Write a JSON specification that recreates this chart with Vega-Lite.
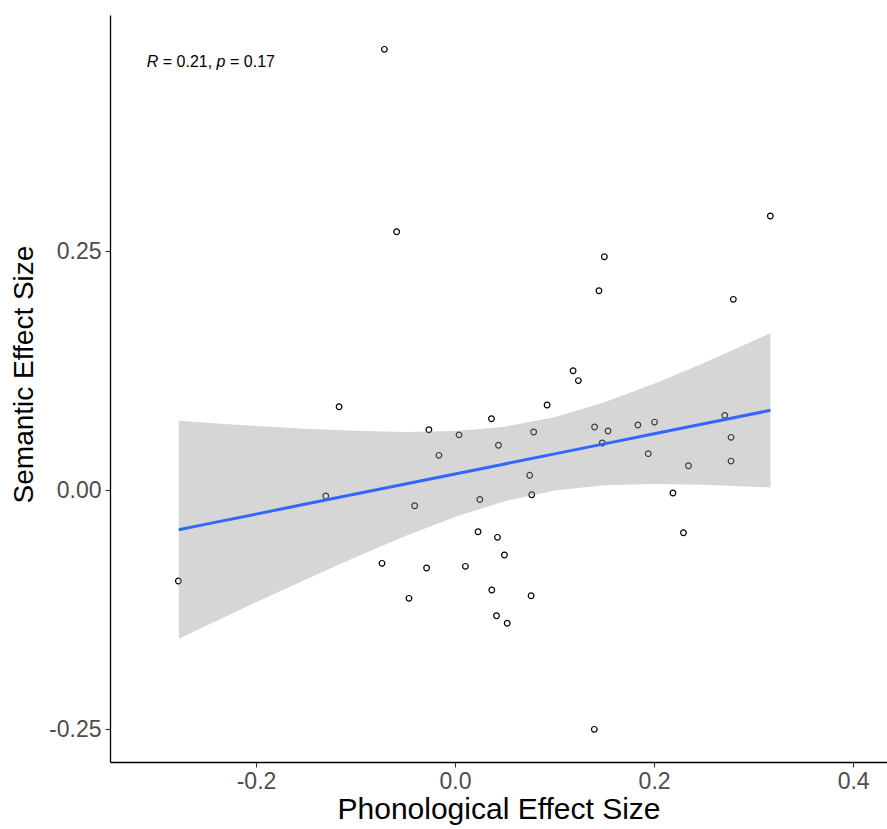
{
  "$schema": "https://vega.github.io/schema/vega-lite/v6.json",
  "width": 777,
  "height": 747,
  "autosize": {"type": "none"},
  "padding": {"left": 110, "top": 15, "right": 0, "bottom": 67},
  "background": "white",
  "config": {
    "view": {"stroke": null},
    "font": "Liberation Sans",
    "axis": {
      "domainColor": "black",
      "domainWidth": 1.3,
      "tickColor": "#333333",
      "tickWidth": 1.1,
      "tickSize": 5,
      "grid": false,
      "labelColor": "#4d4d4d",
      "labelFont": "Liberation Sans",
      "labelFontSize": 23,
      "titleFont": "Liberation Sans",
      "titleFontWeight": "normal",
      "titleColor": "black"
    }
  },
  "datasets": {
    "pts": [
      {"phon": -0.0710, "sem": 0.4610},
      {"phon": -0.0587, "sem": 0.2702},
      {"phon": 0.3168, "sem": 0.2866},
      {"phon": 0.1500, "sem": 0.2440},
      {"phon": 0.1446, "sem": 0.2085},
      {"phon": 0.2796, "sem": 0.1995},
      {"phon": 0.1186, "sem": 0.1248},
      {"phon": 0.1239, "sem": 0.1145},
      {"phon": 0.0925, "sem": 0.0889},
      {"phon": -0.1165, "sem": 0.0871},
      {"phon": 0.0366, "sem": 0.0746},
      {"phon": -0.0263, "sem": 0.0631},
      {"phon": 0.0040, "sem": 0.0577},
      {"phon": 0.0790, "sem": 0.0607},
      {"phon": 0.0436, "sem": 0.0468},
      {"phon": -0.0162, "sem": 0.0363},
      {"phon": 0.1402, "sem": 0.0659},
      {"phon": 0.1537, "sem": 0.0617},
      {"phon": 0.1479, "sem": 0.0492},
      {"phon": 0.1837, "sem": 0.0680},
      {"phon": 0.2004, "sem": 0.0711},
      {"phon": 0.1941, "sem": 0.0380},
      {"phon": 0.2710, "sem": 0.0781},
      {"phon": 0.2773, "sem": 0.0551},
      {"phon": 0.2773, "sem": 0.0303},
      {"phon": 0.2345, "sem": 0.0254},
      {"phon": 0.0750, "sem": 0.0154},
      {"phon": 0.0770, "sem": -0.0049},
      {"phon": -0.1299, "sem": -0.0063},
      {"phon": -0.0406, "sem": -0.0164},
      {"phon": 0.0249, "sem": -0.0099},
      {"phon": 0.2189, "sem": -0.0031},
      {"phon": 0.0231, "sem": -0.0436},
      {"phon": 0.0426, "sem": -0.0495},
      {"phon": 0.0496, "sem": -0.0680},
      {"phon": 0.2295, "sem": -0.0447},
      {"phon": -0.0734, "sem": -0.0767},
      {"phon": -0.0286, "sem": -0.0816},
      {"phon": 0.0104, "sem": -0.0798},
      {"phon": -0.2780, "sem": -0.0952},
      {"phon": -0.0463, "sem": -0.1133},
      {"phon": 0.0369, "sem": -0.1046},
      {"phon": 0.0764, "sem": -0.1106},
      {"phon": 0.0416, "sem": -0.1315},
      {"phon": 0.0524, "sem": -0.1394},
      {"phon": 0.1399, "sem": -0.2503}
    ],
    "fit": [
      {"phon": -0.2776, "fit": -0.0415, "lo": -0.1555, "hi": 0.0725},
      {"phon": -0.25, "fit": -0.0357, "lo": -0.1419, "hi": 0.0705},
      {"phon": -0.2, "fit": -0.0252, "lo": -0.1175, "hi": 0.0671},
      {"phon": -0.15, "fit": -0.0147, "lo": -0.0936, "hi": 0.0642},
      {"phon": -0.1, "fit": -0.0042, "lo": -0.0703, "hi": 0.0619},
      {"phon": -0.05, "fit": 0.0063, "lo": -0.0482, "hi": 0.0608},
      {"phon": 0.0, "fit": 0.0168, "lo": -0.0281, "hi": 0.0617},
      {"phon": 0.05, "fit": 0.0273, "lo": -0.0117, "hi": 0.0663},
      {"phon": 0.1, "fit": 0.0378, "lo": -0.0006, "hi": 0.0762},
      {"phon": 0.15, "fit": 0.0483, "lo": 0.0049, "hi": 0.0917},
      {"phon": 0.2, "fit": 0.0588, "lo": 0.0064, "hi": 0.1112},
      {"phon": 0.25, "fit": 0.0693, "lo": 0.0056, "hi": 0.1330},
      {"phon": 0.3169, "fit": 0.0834, "lo": 0.0027, "hi": 0.1641}
    ]
  },
  "layer": [
    {
      "data": {"name": "pts"},
      "mark": {"type": "point", "shape": "circle", "filled": false, "stroke": "black", "strokeWidth": 1.2, "size": 32, "opacity": 1},
      "encoding": {
        "x": {
          "field": "phon", "type": "quantitative",
          "scale": {"domain": [-0.3467, 0.434], "nice": false, "zero": false},
          "axis": {
            "title": "Phonological Effect Size",
            "titleFontSize": 30,
            "values": [-0.2, 0, 0.2, 0.4],
            "labelExpr": "datum.value < 0 ? '-' + format(-datum.value, '.1f') : format(datum.value, '.1f')",
            "labelPadding": 3,
            "titlePadding": 1
          }
        },
        "y": {
          "field": "sem", "type": "quantitative",
          "scale": {"domain": [-0.2845, 0.4969], "nice": false, "zero": false},
          "axis": {
            "title": "Semantic Effect Size",
            "titleFontSize": 28,
            "titleY": 359,
            "values": [-0.25, 0, 0.25],
            "labelExpr": "datum.value < 0 ? '-' + format(-datum.value, '.2f') : format(datum.value, '.2f')",
            "labelPadding": 4,
            "titlePadding": 10
          }
        }
      }
    },
    {
      "data": {"name": "fit"},
      "mark": {"type": "area", "fill": "#999999", "opacity": 0.4},
      "encoding": {
        "x": {"field": "phon", "type": "quantitative"},
        "y": {"field": "lo", "type": "quantitative"},
        "y2": {"field": "hi"}
      }
    },
    {
      "data": {"name": "fit"},
      "mark": {"type": "line", "color": "#3366FF", "strokeWidth": 3},
      "encoding": {
        "x": {"field": "phon", "type": "quantitative"},
        "y": {"field": "fit", "type": "quantitative"}
      }
    },
    {
      "data": {"values": [{"t": "R"}]},
      "mark": {"type": "text", "align": "left", "baseline": "middle", "fontSize": 16, "fontStyle": "italic", "color": "black", "dx": 0},
      "encoding": {"x": {"datum": -0.3097}, "y": {"datum": 0.4477}, "text": {"field": "t"}}
    },
    {
      "data": {"values": [{"t": "= 0.21,"}]},
      "mark": {"type": "text", "align": "left", "baseline": "middle", "fontSize": 16, "color": "black", "dx": 16},
      "encoding": {"x": {"datum": -0.3097}, "y": {"datum": 0.4477}, "text": {"field": "t"}}
    },
    {
      "data": {"values": [{"t": "p"}]},
      "mark": {"type": "text", "align": "left", "baseline": "middle", "fontSize": 16, "fontStyle": "italic", "color": "black", "dx": 69.8},
      "encoding": {"x": {"datum": -0.3097}, "y": {"datum": 0.4477}, "text": {"field": "t"}}
    },
    {
      "data": {"values": [{"t": "= 0.17"}]},
      "mark": {"type": "text", "align": "left", "baseline": "middle", "fontSize": 16, "color": "black", "dx": 83.2},
      "encoding": {"x": {"datum": -0.3097}, "y": {"datum": 0.4477}, "text": {"field": "t"}}
    }
  ]
}
